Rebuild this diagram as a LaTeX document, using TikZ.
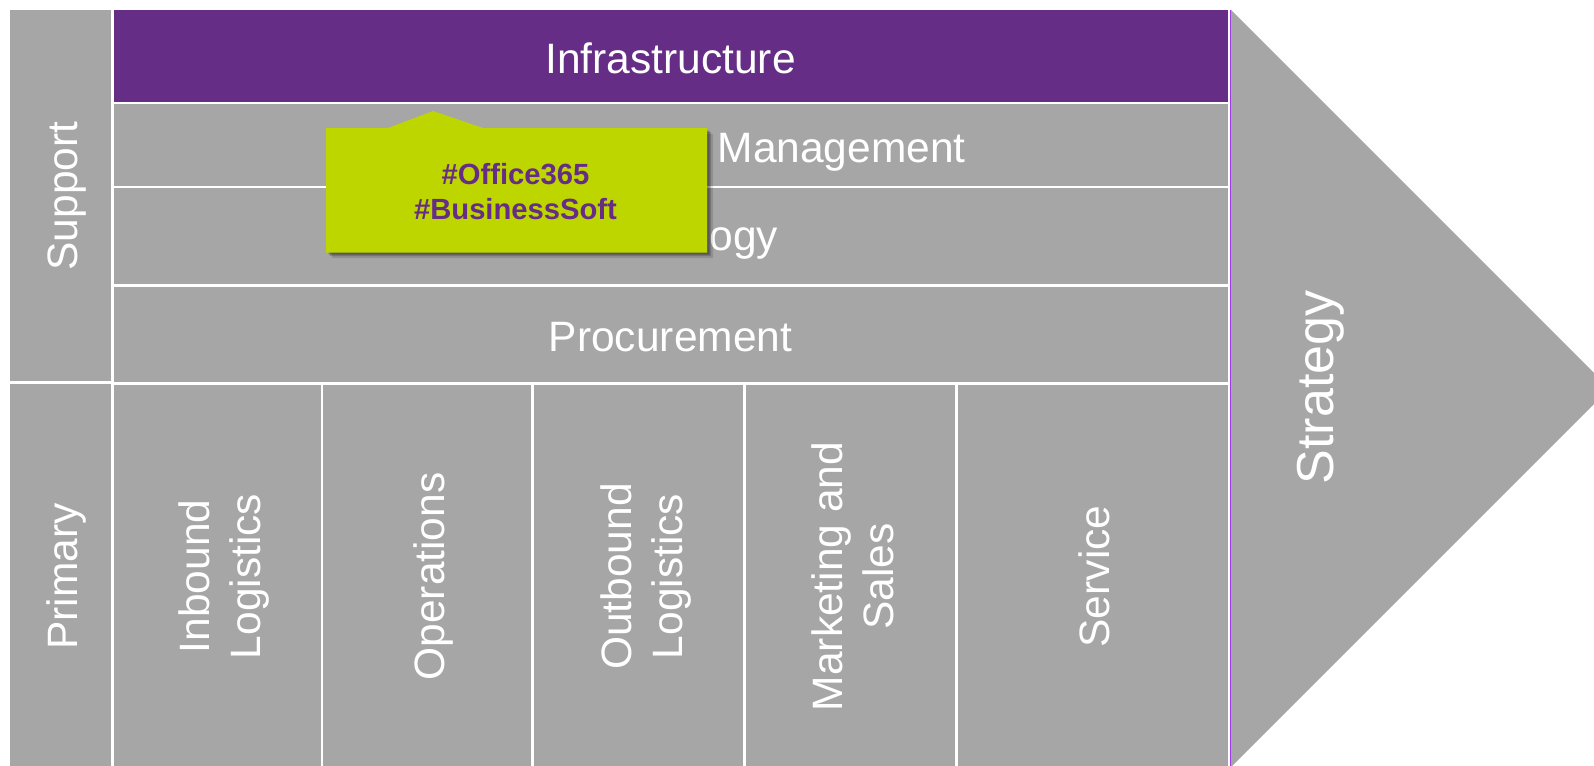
\documentclass[tikz,border=0pt]{standalone}
\usepackage{fontspec}
\setmainfont{Liberation Sans}
\definecolor{vcgray}{RGB}{166,166,166}
\definecolor{vcpurple}{RGB}{102,45,134}
\definecolor{vclime}{RGB}{190,214,0}
\definecolor{vcline}{RGB}{160,60,230}
\begin{document}
\begin{tikzpicture}[x=1pt,y=-1pt,
  box/.style={fill=vcgray},
  lbl/.style={text=white, font=\fontsize{42.5}{51}\selectfont, anchor=base, inner sep=0pt},
  vlbl/.style={lbl, rotate=90},
  tagtext/.style={text=vcpurple, font=\bfseries\fontsize{29.2}{35}\selectfont, anchor=base, inner sep=0pt}
]
\useasboundingbox (0,0) rectangle (1594,765);
\clip (0,0) rectangle (1594,765);
\fill[white] (0,0) rectangle (1594,765);
% left label column
\fill[box] (10,10) rectangle (111,381);
\fill[box] (10,384) rectangle (111,770);
% support rows
\fill[vcpurple] (114,10) rectangle (1227.5,102);
\fill[box] (114,104.5) rectangle (1227.5,185.8);
\fill[box] (114,188.3) rectangle (1227.5,283.8);
\fill[box] (114,286.6) rectangle (1227.5,382);
% primary columns
\fill[box] (114,384.7) rectangle (320.7,770);
\fill[box] (323.2,384.7) rectangle (530.8,770);
\fill[box] (533.6,384.7) rectangle (743,770);
\fill[box] (745.8,384.7) rectangle (954.7,770);
\fill[box] (957.5,384.7) rectangle (1227.5,770);
% strategy chevron
\fill[vcline] (1229.6,10) rectangle (1230.9,770);
\fill[box] (1231,10) -- (1609.5,388.5) -- (1231,767) -- cycle;
% labels
\node[lbl] (infra) at (670.5,73.3) {Infrastructure};
\node[lbl] (hrm) at (670.5,162.5) {Human Resource Management};
\node[lbl] (tech) at (670.5,250.3) {Technology};
\node[lbl] (proc) at (670.5,351.6) {Procurement};
\node[vlbl] (support) at (77.8,196) {Support};
\node[vlbl] (primary) at (77.8,576.5) {Primary};
\node[vlbl] (inb1) at (209.5,576.5) {Inbound};
\node[vlbl] (inb2) at (260.5,576.5) {Logistics};
\node[vlbl] (ops) at (444,576.5) {Operations};
\node[vlbl] (outb1) at (631.5,576.5) {Outbound};
\node[vlbl] (outb2) at (682.5,576.5) {Logistics};
\node[vlbl] (mkt1) at (842,576.5) {Marketing and};
\node[vlbl] (mkt2) at (893,576.5) {Sales};
\node[vlbl] (svc) at (1109.5,576.5) {Service};
\node[vlbl, font=\fontsize{52}{62}\selectfont] (strat) at (1333,387.5) {Strategy};
% callout shadow
\fill[black, opacity=0.12] (332,134) -- (394,134) -- (439,117) -- (489,134) -- (713,134) -- (713,258) -- (332,258) -- cycle;
\fill[black, opacity=0.18] (330,132) -- (392,132) -- (437,115) -- (487,132) -- (711,132) -- (711,256) -- (330,256) -- cycle;
\fill[black, opacity=0.25] (328.5,130.5) -- (390.5,130.5) -- (435.5,113.5) -- (485.5,130.5) -- (709.5,130.5) -- (709.5,254.5) -- (328.5,254.5) -- cycle;
% callout
\fill[vclime] (326,128) -- (388,128) -- (433,111) -- (483,128) -- (707,128) -- (707,252.5) -- (326,252.5) -- cycle;
\node[tagtext] (tag1) at (515.5,184.3) {\#Office365};
\node[tagtext] (tag2) at (515.5,219.2) {\#BusinessSoft};
\end{tikzpicture}
\end{document}
